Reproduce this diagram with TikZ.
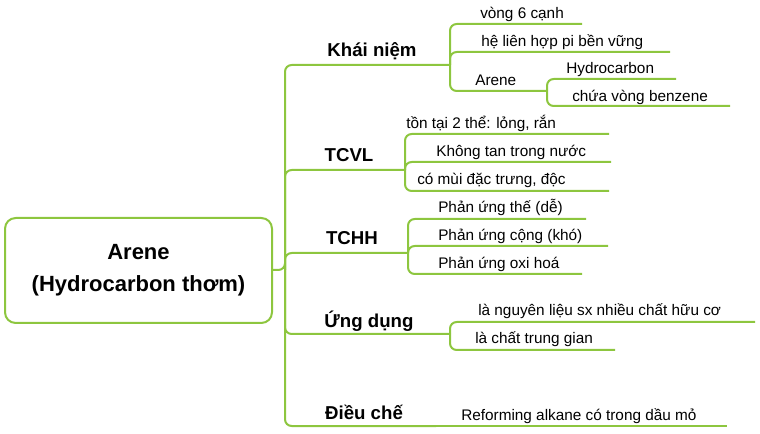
\documentclass[tikz,border=0pt]{standalone}
\usepackage{fontspec}
\setmainfont{Liberation Sans}
\begin{document}
\begin{tikzpicture}[x=0.75pt,y=-0.75pt,
  ln/.style={draw=green!55!yellow!85!black,line width=1.5pt,rounded corners=5pt},
  kid/.style={inner sep=0pt,font=\fontsize{11.5}{13}\selectfont,anchor=base west},
  br/.style={inner sep=0pt,font=\fontsize{14}{16}\selectfont\bfseries,anchor=base},
  ]
\useasboundingbox (0,0) rectangle (760,434);
\definecolor{lg}{HTML}{8DC63F}
\tikzset{ln/.style={draw=lg,line width=1.5pt,rounded corners=5pt}}
% root
\node[draw=lg,line width=1.5pt,rounded corners=8pt,minimum width=267*0.75pt,minimum height=105*0.75pt,align=center,font=\fontsize{16.5}{24}\selectfont\bfseries,inner sep=0pt] (root) at (138.5,270.5) {Arene\\(Hydrocarbon thơm)};
% main branches
\coordinate (sp) at (285,270);
\node[br] (b1) at (372,57) {Khái niệm};
\node[br] (b2) at (349,162) {TCVL};
\node[br] (b3) at (352,245) {TCHH};
\node[br] (b4) at (369,328) {Ứng dụng};
\node[br] (b5) at (364,419) {Điều chế};
\coordinate (e1) at (450,65);
\coordinate (e2) at (405,170);
\coordinate (e3) at (408,253);
\coordinate (e4) at (450,334);
\coordinate (e5) at (436,426);
\draw[ln] (root.east |- sp) -- (sp) -- (285,65) -- (e1);
\foreach \e in {e2,e3,e4} \draw[ln] (sp) -- (285,270) |- (\e);
\draw[ln] (sp) -- (285,426) -- (e5);
% Khai niem children
\node[kid] (k1) at (480,19) {vòng 6 cạnh};
\node[kid] (k2) at (481,47) {hệ liên hợp pi bền vững};
\node[kid] (k3) at (475,86) {Arene};
\draw[ln] (e1) -- (450,24) -- (582,24);
\draw[ln] (e1) -- (450,52) -- (670,52);
\draw[ln] (e1) -- (450,91) -- (547,91);
\coordinate (e6) at (547,91);
\node[kid] (h1) at (566,74) {Hydrocarbon};
\node[kid] (h2) at (572,102) {chứa vòng benzene};
\draw[ln] (e6) -- (547,79) -- (676,79);
\draw[ln] (e6) -- (547,106) -- (730,106);
% TCVL
\node[kid] (t1) at (406,129) {tồn tại 2 thể: lỏng, rắn};
\node[kid] (t2) at (436,157) {Không tan trong nước};
\node[kid] (t3) at (417,185) {có mùi đặc trưng, độc};
\draw[ln] (e2) -- (405,134) -- (609,134);
\draw[ln] (e2) -- (405,162) -- (611,162);
\draw[ln] (e2) -- (405,191) -- (609,191);
% TCHH
\node[kid] (c1) at (438,213) {Phản ứng thế (dễ)};
\node[kid] (c2) at (438,241) {Phản ứng cộng (khó)};
\node[kid] (c3) at (438,269) {Phản ứng oxi hoá};
\draw[ln] (e3) -- (408,219) -- (586,219);
\draw[ln] (e3) -- (408,246) -- (608,246);
\draw[ln] (e3) -- (408,274) -- (582,274);
% Ung dung
\node[kid] (u1) at (478,316) {là nguyên liệu sx nhiều chất hữu cơ};
\node[kid] (u2) at (475,344) {là chất trung gian};
\draw[ln] (e4) -- (450,322) -- (755,322);
\draw[ln] (e4) -- (450,350) -- (615,350);
% Dieu che
\node[kid] (d1) at (461,420) {Reforming alkane có trong dầu mỏ};
\draw[ln] (e5) -- (727,426);
\end{tikzpicture}
\end{document}
